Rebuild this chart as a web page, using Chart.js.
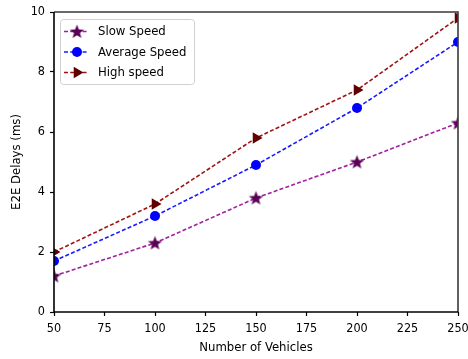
<!DOCTYPE html>
<html>
<head>
<meta charset="utf-8">
<script src="https://cdn.jsdelivr.net/npm/chart.js@4"></script>
<style>
html,body{margin:0;padding:0;background:#fff;}
#wrap{width:468px;height:359px;}
</style>
</head>
<body>
<div id="wrap"><canvas id="c" width="468" height="359"></canvas></div>
<script>
const vehicles = [50, 100, 150, 200, 250];
const slowSpeed = [1.2, 2.3, 3.8, 5.0, 6.3];
const averageSpeed = [1.7, 3.2, 4.9, 6.8, 9.0];
const highSpeed = [2.0, 3.6, 5.8, 7.4, 9.8];
const seriesLabels = ['Slow Speed', 'Average Speed', 'High speed'];
const xTicks = [50, 75, 100, 125, 150, 175, 200, 225, 250];
const yTicks = [0, 2, 4, 6, 8, 10];

const FONT = "'DejaVu Sans Condensed', 'DejaVu Sans', sans-serif";

function makeStar(color, r) {
  const s = Math.ceil(r * 2 + 2);
  const cv = document.createElement('canvas');
  cv.width = s; cv.height = s;
  const g = cv.getContext('2d');
  g.fillStyle = color;
  g.beginPath();
  const cx = s / 2, cy = s / 2 + 0.5, ri = r * 0.42;
  for (let i = 0; i < 10; i++) {
    const rad = (i % 2 === 0) ? r : ri;
    const a = -Math.PI / 2 + i * Math.PI / 5;
    const px = cx + rad * Math.cos(a), py = cy + rad * Math.sin(a);
    if (i === 0) g.moveTo(px, py); else g.lineTo(px, py);
  }
  g.closePath();
  g.fill();
  return cv;
}
const starImg = makeStar('#5a0057', 7.5);

const toPts = arr => vehicles.map((v, i) => ({x: v, y: arr[i]}));

const datasets = [
  {label: seriesLabels[0], data: toPts(slowSpeed), borderColor: '#a0209e', backgroundColor: '#5a0057',
   pointStyle: starImg, pointRadius: 7, pointRotation: 0, pointBorderWidth: 0},
  {label: seriesLabels[1], data: toPts(averageSpeed), borderColor: '#1a1aff', backgroundColor: '#0000ff',
   pointBorderColor: '#0000ff', pointStyle: 'circle', pointRadius: 5, pointRotation: 0, pointBorderWidth: 0},
  {label: seriesLabels[2], data: toPts(highSpeed), borderColor: '#a01212', backgroundColor: '#600000',
   pointBorderColor: '#600000', pointStyle: 'triangle', pointRadius: 6.5, pointRotation: 90, pointBorderWidth: 0}
].map(d => Object.assign({borderWidth: 1.6, borderDash: [4, 2.2], fill: false, tension: 0, clip: 0,
  pointHoverRadius: d.pointRadius, pointBackgroundColor: d.backgroundColor}, d));

const framePlugin = {
  id: 'frame',
  afterDraw(chart) {
    const {ctx, chartArea: a} = chart;
    ctx.save();
    ctx.lineWidth = 1.6;
    ctx.strokeStyle = '#3a3a3a';
    ctx.beginPath();
    ctx.moveTo(a.left, a.top); ctx.lineTo(a.right, a.top); ctx.lineTo(a.right, a.bottom);
    ctx.stroke();
    ctx.strokeStyle = '#000';
    ctx.beginPath();
    ctx.moveTo(a.left, a.top); ctx.lineTo(a.left, a.bottom); ctx.lineTo(a.right, a.bottom);
    ctx.stroke();

    // legend
    const bx = a.left + 6, by = a.top + 7, bw = 134, bh = 65;
    ctx.fillStyle = 'rgba(255,255,255,0.85)';
    ctx.strokeStyle = '#d0d0d0';
    ctx.lineWidth = 1;
    ctx.beginPath();
    if (ctx.roundRect) ctx.roundRect(bx + 0.5, by + 0.5, bw, bh, 3); else ctx.rect(bx + 0.5, by + 0.5, bw, bh);
    ctx.fill();
    ctx.stroke();
    ctx.font = "13px " + FONT;
    ctx.textBaseline = 'middle';
    ctx.textAlign = 'left';
    chart.data.datasets.forEach((ds, i) => {
      const y = by + 12.5 + i * 20.5;
      ctx.save();
      ctx.strokeStyle = ds.borderColor;
      ctx.lineWidth = ds.borderWidth;
      ctx.setLineDash(ds.borderDash);
      ctx.beginPath();
      ctx.moveTo(bx + 4, y); ctx.lineTo(bx + 28, y);
      ctx.stroke();
      ctx.restore();
      ctx.save();
      ctx.fillStyle = ds.pointBackgroundColor;
      ctx.strokeStyle = ds.pointBackgroundColor;
      Chart.helpers.drawPoint(ctx, {pointStyle: ds.pointStyle, radius: ds.pointRadius, rotation: ds.pointRotation, borderWidth: 0}, bx + 17, y);
      ctx.restore();
      ctx.fillStyle = '#000';
      ctx.fillText(ds.label, bx + 38, y + 0.5);
    });
    ctx.restore();
  }
};

new Chart(document.getElementById('c'), {
  type: 'line',
  data: {datasets},
  plugins: [framePlugin],
  options: {
    responsive: false,
    animation: false,
    events: [],
    layout: {padding: {top: 12, right: 10, left: 0, bottom: 0}},
    plugins: {legend: {display: false}, tooltip: {enabled: false}},
    scales: {
      x: {
        type: 'linear', min: 50, max: 250,
        afterBuildTicks: s => { s.ticks = xTicks.map(v => ({value: v})); },
        afterFit: s => { s.height = 47; s.paddingLeft = 0; s.paddingRight = 0; },
        border: {display: false},
        grid: {drawOnChartArea: false, drawTicks: true, tickLength: 4, tickColor: '#000', tickWidth: 1.2},
        ticks: {color: '#000', font: {family: FONT, size: 12.5}, padding: 5, maxRotation: 0, autoSkip: false},
        title: {display: true, text: 'Number of Vehicles', color: '#000', font: {family: FONT, size: 13}, padding: {top: 0, bottom: 4}}
      },
      y: {
        type: 'linear', min: 0, max: 10,
        afterBuildTicks: s => { s.ticks = yTicks.map(v => ({value: v})); },
        afterFit: s => { s.width = 54; s.paddingTop = 0; s.paddingBottom = 0; },
        border: {display: false},
        grid: {drawOnChartArea: false, drawTicks: true, tickLength: 4, tickColor: '#000', tickWidth: 1.2},
        ticks: {color: '#000', font: {family: FONT, size: 12.5}, padding: 5, autoSkip: false},
        title: {display: true, text: 'E2E Delays (ms)', color: '#000', font: {family: FONT, size: 13}, padding: {top: 9, bottom: 0}}
      }
    }
  }
});
</script>
</body>
</html>
